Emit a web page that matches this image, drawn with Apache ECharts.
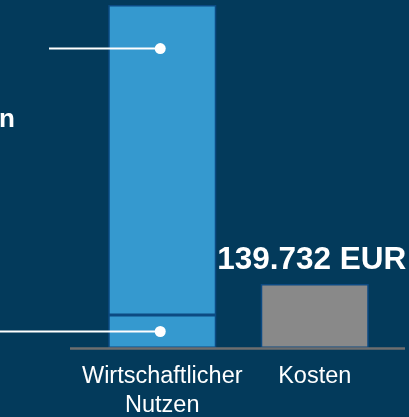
<!DOCTYPE html>
<html><head><meta charset="utf-8">
<script src="https://cdn.jsdelivr.net/npm/echarts@6/dist/echarts.min.js"></script>
<style>html,body{margin:0;padding:0;background:#033a5b;}#c{width:409px;height:417px;}</style>
</head><body><div id="c"></div>
<script>
var categories = ['Wirtschaftlicher\nNutzen', 'Kosten'];
var nutzenUnten = [72000, null];
var nutzenOben = [676000, null];
var kosten = [null, 139732];
var kostenLabel = '139.732 EUR';
var annotValues = [653000, 36000];

var chart = echarts.init(document.getElementById('c'));
var maxV = nutzenUnten[0] + nutzenOben[0];
var border = {borderColor: '#0c4a82', borderWidth: 1.5};
var FF = 'Liberation Sans, Arial, sans-serif';
chart.setOption({
  backgroundColor: '#033a5b',
  animation: false,
  grid: {left: 86, right: 18, top: 5, bottom: 69, containLabel: false, outerBoundsMode: 'none'},
  xAxis: {type: 'category', data: categories,
    axisLine: {show: false}, axisTick: {show: false},
    axisLabel: {interval: 0, color: '#ffffff', fontSize: 23.5, lineHeight: 29, margin: 14, fontFamily: FF}},
  yAxis: {type: 'value', min: 0, max: maxV, show: false, splitLine: {show: false}},
  series: [
    {type: 'bar', stack: 'n', data: nutzenUnten, barWidth: 108, itemStyle: Object.assign({color: '#3599cf'}, border)},
    {type: 'bar', stack: 'n', data: nutzenOben, barWidth: 108, itemStyle: Object.assign({color: '#3599cf'}, border)},
    {type: 'bar', stack: 'k', data: kosten, barWidth: 108, barGap: '-100%', itemStyle: Object.assign({color: '#898989'}, border),
      label: {show: true, position: 'top', distance: 8, offset: [-3, 0], color: '#ffffff', fontSize: 31.5, fontWeight: 'bold',
        fontFamily: FF, formatter: function(){ return kostenLabel; }}}
  ]
});

var p0 = chart.convertToPixel({xAxisIndex: 0, yAxisIndex: 0}, [0, annotValues[0]]);
var p1 = chart.convertToPixel({xAxisIndex: 0, yAxisIndex: 0}, [0, annotValues[1]]);
var base = chart.convertToPixel({xAxisIndex: 0, yAxisIndex: 0}, [0, 0]);
var dx = p0[0] - 2;
chart.setOption({
  graphic: [
    {type: 'line', z: 100, shape: {x1: 70, y1: base[1] + 0.5, x2: 405, y2: base[1] + 0.5}, style: {stroke: '#6e6e6e', lineWidth: 2.5}},
    {type: 'line', z: 100, shape: {x1: 49, y1: p0[1], x2: dx, y2: p0[1]}, style: {stroke: '#ffffff', lineWidth: 2}},
    {type: 'circle', z: 100, shape: {cx: dx, cy: p0[1], r: 5.5}, style: {fill: '#ffffff'}},
    {type: 'line', z: 100, shape: {x1: 0, y1: p1[1], x2: dx, y2: p1[1]}, style: {stroke: '#ffffff', lineWidth: 2}},
    {type: 'circle', z: 100, shape: {cx: dx, cy: p1[1], r: 5.5}, style: {fill: '#ffffff'}},
    {type: 'text', z: 100, x: 15, y: 120, style: {text: 'n', fill: '#ffffff', fontSize: 26, fontWeight: 'bold', fontFamily: FF, align: 'right', verticalAlign: 'middle'}}
  ]
});
</script></body></html>
